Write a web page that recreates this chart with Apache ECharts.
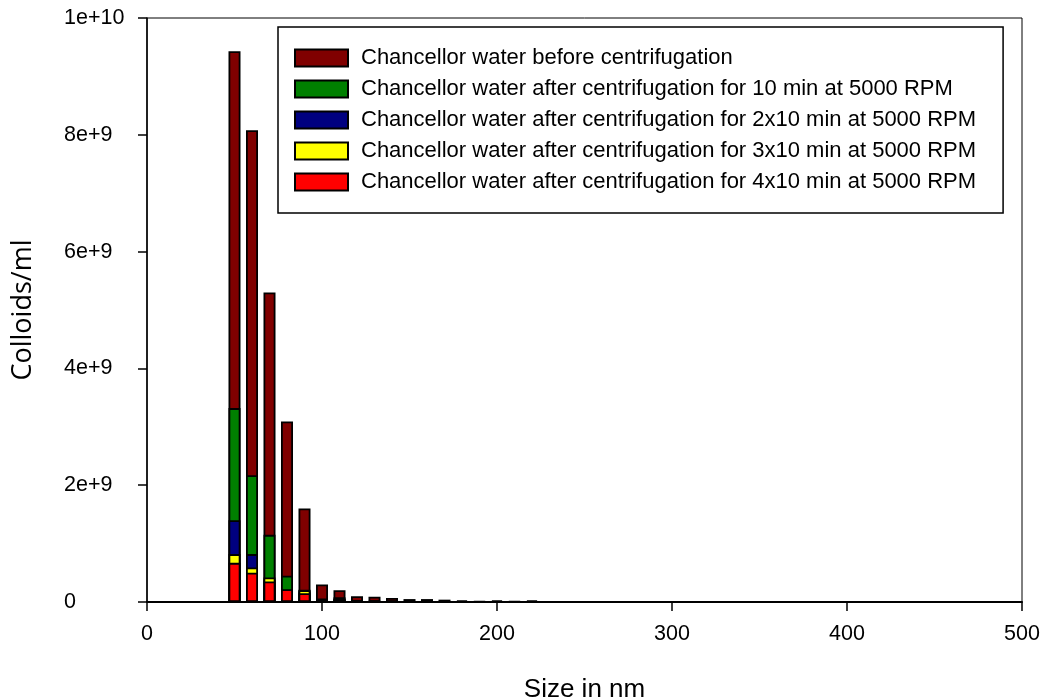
<!DOCTYPE html>
<html>
<head>
<meta charset="utf-8">
<script src="https://cdn.jsdelivr.net/npm/echarts@6/dist/echarts.min.js"></script>
<style>
  html, body { margin: 0; padding: 0; background: #fff; }
  #chart { width: 1043px; height: 697px; }
</style>
</head>
<body>
<div id="chart"></div>
<script>
// particle size bins (nm)
const sizes = [50, 60, 70, 80, 90, 100, 110, 120, 130, 140, 150, 160, 170, 180, 190, 200, 210, 220];

// colloids/ml
const beforeCentr = [9.43e9, 8.08e9, 5.30e9, 3.09e9, 1.60e9, 0.30e9, 0.20e9, 0.10e9, 0.09e9, 0.07e9, 0.05e9, 0.05e9, 0.04e9, 0.03e9, 0.01e9, 0.03e9, 0.01e9, 0.03e9];
const after10 = [3.32e9, 2.17e9, 1.15e9, 0.45e9, 0.21e9, 0.06e9, 0.08e9, 0.03e9, 0.01e9, 0.01e9, 0.01e9, 0.01e9, 0.01e9, 0, 0, 0, 0, 0];
const after2x10 = [1.40e9, 0.82e9, 0.38e9, 0.20e9, 0.18e9, 0.05e9, 0.06e9, 0.02e9, 0.01e9, 0.01e9, 0, 0, 0, 0, 0, 0, 0, 0];
const after3x10 = [0.82e9, 0.59e9, 0.42e9, 0.21e9, 0.20e9, 0.05e9, 0.05e9, 0.02e9, 0.01e9, 0, 0, 0, 0, 0, 0, 0, 0, 0];
const after4x10 = [0.67e9, 0.50e9, 0.35e9, 0.22e9, 0.15e9, 0.04e9, 0.04e9, 0.02e9, 0.01e9, 0, 0, 0, 0, 0, 0, 0, 0, 0];

const seriesNames = [
  'Chancellor water before centrifugation',
  'Chancellor water after centrifugation for 10 min at 5000 RPM',
  'Chancellor water after centrifugation for 2x10 min at 5000 RPM',
  'Chancellor water after centrifugation for 3x10 min at 5000 RPM',
  'Chancellor water after centrifugation for 4x10 min at 5000 RPM'
];
const seriesData = [beforeCentr, after10, after2x10, after3x10, after4x10];
const colors = ['#800000', '#008000', '#000080', '#ffff00', '#ff0000'];

const xTicks = [0, 100, 200, 300, 400, 500];
const yTicks = [0, 2e9, 4e9, 6e9, 8e9, 1e10];

const font = 'Liberation Sans, Arial, sans-serif';

let chart = echarts.init(document.getElementById('chart'));

// bars overlap from zero (barGap -100%), later series drawn in front
let series = seriesData.map(function (vals, i) {
  return {
    name: seriesNames[i],
    type: 'bar',
    barWidth: 12,
    barGap: '-100%',
    itemStyle: { color: colors[i], borderColor: '#000', borderWidth: 1.8 },
    data: sizes.map(function (s, j) { return [s, vals[j]]; })
  };
});

let option = {
  animation: false,
  grid: {
    left: 147, right: 21, top: 18, bottom: 95,
    outerBoundsMode: 'none',
    show: true, borderColor: '#000', borderWidth: 1
  },
  legend: {
    orient: 'vertical',
    left: 278,
    top: 27,
    padding: [20, 27, 20, 16],
    itemWidth: 53,
    itemHeight: 17,
    itemGap: 9,
    icon: 'rect',
    borderColor: '#000',
    borderWidth: 1.5,
    textStyle: { fontFamily: font, fontSize: 22, color: '#000', padding: [0, 0, 0, 8] },
    data: seriesNames
  },
  xAxis: {
    type: 'value',
    min: xTicks[0],
    max: xTicks[xTicks.length - 1],
    interval: 100,
    name: 'Size in nm',
    nameLocation: 'middle',
    nameGap: 75,
    nameTextStyle: { fontFamily: font, fontSize: 26, color: '#000' },
    splitLine: { show: false },
    axisLine: { lineStyle: { color: '#000', width: 2 } },
    axisTick: { length: 9, lineStyle: { color: '#000', width: 1.5 } },
    axisLabel: { margin: 21, fontFamily: font, fontSize: 21.5, color: '#000' }
  },
  yAxis: {
    type: 'value',
    min: yTicks[0],
    max: yTicks[yTicks.length - 1],
    interval: 2e9,
    name: 'Colloids/ml',
    nameLocation: 'middle',
    nameGap: 110,
    nameTextStyle: { fontFamily: 'Open Sans, sans-serif', fontSize: 27, color: '#000' },
    splitLine: { show: false },
    axisLine: { show: true, lineStyle: { color: '#000', width: 1.5 } },
    axisTick: { show: true, length: 9, lineStyle: { color: '#000', width: 1.5 } },
    axisLabel: {
      margin: 83,
      align: 'left',
      fontFamily: font,
      fontSize: 21.5,
      color: '#000',
      formatter: function (v) { return v === 0 ? '0' : v.toExponential(); }
    }
  },
  series: series
};

chart.setOption(option);
</script>
</body>
</html>
